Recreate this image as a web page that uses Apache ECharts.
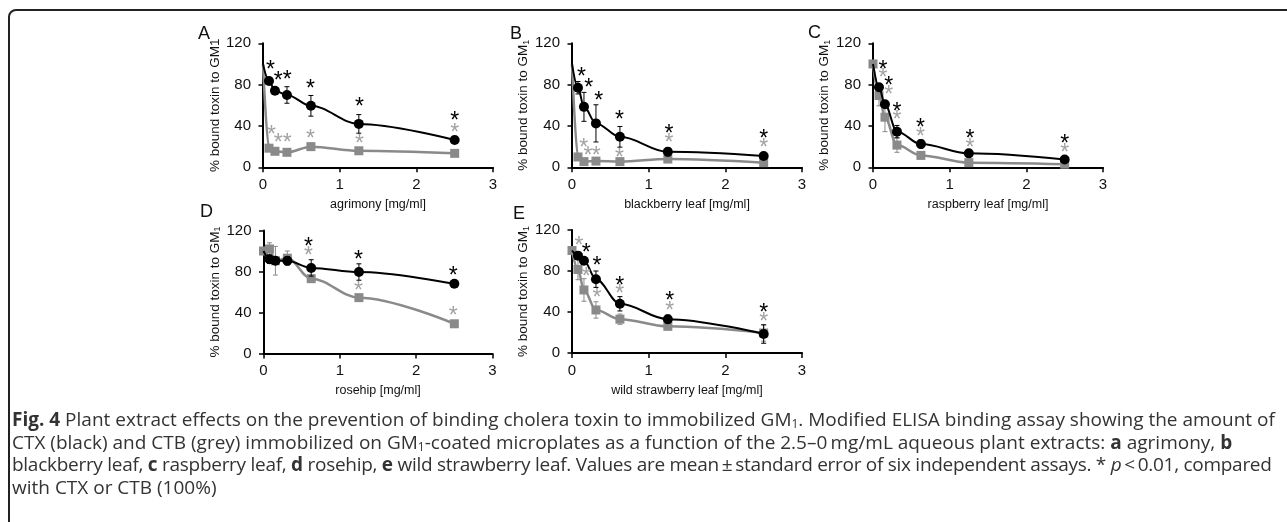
<!DOCTYPE html>
<html>
<head>
<meta charset="utf-8">
<script src="https://cdn.jsdelivr.net/npm/echarts@6.0.0/dist/echarts.min.js"></script>
<style>
html, body { margin:0; padding:0; background:#fff; }
#wrap { position:relative; width:1287px; height:522px; overflow:hidden; }
#chart { position:absolute; left:0; top:0; width:1287px; height:522px; }
#box { position:absolute; left:8px; top:9px; width:1400px; height:520px; border:2px solid #222; border-radius:8px; box-sizing:border-box; }
#cap { position:absolute; left:12px; top:408px; font-family:"Open Sans","Noto Sans",sans-serif; font-size:19px; line-height:22.7px; color:#333; white-space:nowrap; }
#cap sub { font-size:12px; vertical-align:-2px; line-height:0; }
#cap .tight { letter-spacing:-0.28px; }
</style>
</head>
<body>
<div id="wrap">
  <div id="box"></div>
  <div id="chart"></div>
  <div id="cap">
    <div><b>Fig. 4</b> Plant extract effects on the prevention of binding cholera toxin to immobilized GM<sub>1</sub>. Modified ELISA binding assay showing the amount of</div>
    <div>CTX (black) and CTB (grey) immobilized on GM<sub>1</sub>-coated microplates as a function of the 2.5–0&#8201;mg/mL aqueous plant extracts: <b>a</b> agrimony, <b>b</b></div>
    <div class="tight">blackberry leaf, <b>c</b> raspberry leaf, <b>d</b> rosehip, <b>e</b> wild strawberry leaf. Values are mean&#8201;±&#8201;standard error of six independent assays. * <i>p</i>&#8201;&lt;&#8201;0.01, compared</div>
    <div>with CTX or CTB (100%)</div>
  </div>
</div>
<script>
// concentrations [mg/ml]
var conc = [0, 0.078, 0.156, 0.3125, 0.625, 1.25, 2.5];
var xTicks = [0, 1, 2, 3];
var yTicks = [0, 40, 80, 120];

var panelLetters = ['A', 'B', 'C', 'D', 'E'];
var xNames = ['agrimony [mg/ml]', 'blackberry leaf [mg/ml]', 'raspberry leaf [mg/ml]', 'rosehip [mg/ml]', 'wild strawberry leaf [mg/ml]'];

// CTX (black)
var ctxA = [100, 83.5, 74, 70, 59.5, 42, 26.5];
var ctxErrA = [0, 3, 2, 8, 10, 9, 2];
var ctxB = [100, 77, 58.5, 42.5, 29.5, 15, 11];
var ctxErrB = [0, 6, 14, 18, 10, 4, 1];
var ctxC = [100, 77.5, 61, 34.5, 22.5, 13.5, 7.5];
var ctxErrC = [0, 3, 3, 6, 4, 2, 1];
var ctxD = [100, 92, 90.5, 90.5, 83.5, 79.5, 68];
var ctxErrD = [0, 4, 3, 4, 8, 8, 2];
var ctxE = [100, 95, 90, 72, 48, 33, 18.5];
var ctxErrE = [0, 2, 3, 8, 7, 4, 9];

// CTB (grey)
var ctbA = [100, 18.5, 15.5, 14.5, 20, 16, 13.5];
var ctbErrA = [0, 2, 2, 2, 3, 2, 1];
var ctbB = [100, 10, 5.5, 6, 5.5, 8, 4.5];
var ctbErrB = [0, 1, 1, 1, 1, 1, 1];
var ctbC = [100, 69.5, 48.5, 21.5, 11.5, 4.5, 3];
var ctbErrC = [0, 10, 14, 7, 2, 1, 1];
var ctbD = [100, 102, 90.5, 93, 73, 54.5, 29];
var ctbErrD = [0, 6, 14, 7, 3, 3, 2];
var ctbE = [100, 81.5, 61.5, 42, 33, 26, 19.5];
var ctbErrE = [0, 10, 11, 8, 5, 2, 8];

// significance asterisks (x, y in data units)
var starsCtxA = [[0.096, 98], [0.197, 87.7], [0.315, 88.4], [0.62, 79.7], [1.26, 62.6], [2.5, 49]];
var starsCtbA = [[0.109, 35.5], [0.197, 28], [0.315, 28], [0.62, 31.3], [1.26, 26.5], [2.5, 37.7]];
var starsCtxB = [[0.122, 91.6], [0.217, 81.3], [0.348, 68.4], [0.62, 49.7], [1.265, 36.8], [2.5, 32]];
var starsCtbB = [[0.152, 23.2], [0.209, 15.2], [0.317, 15.2], [0.62, 13.5], [1.265, 28], [2.5, 22.6]];
var starsCtxC = [[0.131, 98.4], [0.205, 82.9], [0.314, 58], [0.62, 42], [1.266, 31.3], [2.5, 26.5]];
var starsCtbC = [[0.131, 90.3], [0.205, 73.9], [0.314, 50], [0.62, 33.9], [1.266, 23.2], [2.5, 17.7]];
var starsCtxD = [[0.59, 108], [1.245, 95.6], [2.485, 80.3]];
var starsCtbD = [[0.59, 99.8], [1.245, 65.7], [2.485, 41.3]];
var starsCtxE = [[0.187, 102.2], [0.326, 89.2], [0.622, 69.7], [1.274, 54.5], [2.5, 42.8]];
var starsCtbE = [[0.091, 108.7], [0.187, 78.5], [0.326, 57.7], [0.622, 61.6], [1.274, 44.8], [2.5, 34.7]];

var ctxAll = [ctxA, ctxB, ctxC, ctxD, ctxE];
var ctxErrAll = [ctxErrA, ctxErrB, ctxErrC, ctxErrD, ctxErrE];
var ctbAll = [ctbA, ctbB, ctbC, ctbD, ctbE];
var ctbErrAll = [ctbErrA, ctbErrB, ctbErrC, ctbErrD, ctbErrE];
var starsCtxAll = [starsCtxA, starsCtxB, starsCtxC, starsCtxD, starsCtxE];
var starsCtbAll = [starsCtbA, starsCtbB, starsCtbC, starsCtbD, starsCtbE];
// marker at concentration 0 is only shown for the grey series in C, D, E
var showZeroGrey = [false, false, true, true, true];

var BLACK = '#000';
var GREY = '#8a8a8a';
var GREY_STAR = '#a3a3a3';
var FONT = 'Liberation Sans, Arial, sans-serif';

// grid boxes
var grids = [
	{left: 263, top: 43.3, width: 230, height: 124},
	{left: 572, top: 43.3, width: 230, height: 124},
	{left: 873, top: 43.3, width: 230, height: 124},
	{left: 263.5, top: 230.5, width: 229, height: 123},
	{left: 572, top: 230, width: 230, height: 123}
];
var letterPos = [[198, 25], [510, 25], [808, 24], [200, 203], [513, 205]];

function errRender(color) {
	return function(params, api) {
		var x = api.value(0), y = api.value(1), e = api.value(2);
		if (!e) return null;
		var t = api.coord([x, y + e]);
		var b = api.coord([x, y - e]);
		var w = 2.5;
		var st = {stroke: color, lineWidth: 1};
		return {type: 'group', children: [
			{type: 'line', shape: {x1: t[0], y1: t[1], x2: b[0], y2: b[1]}, style: st},
			{type: 'line', shape: {x1: t[0] - w, y1: t[1], x2: t[0] + w, y2: t[1]}, style: st},
			{type: 'line', shape: {x1: b[0] - w, y1: b[1], x2: b[0] + w, y2: b[1]}, style: st}
		]};
	};
}

function starRender(color) {
	return function(params, api) {
		var p = api.coord([api.value(0), api.value(1)]);
		return {type: 'text', x: p[0], y: p[1] + 5, style: {text: '*', fill: color, font: '23px ' + FONT, align: 'center', verticalAlign: 'middle'}};
	};
}

var option = {
	animation: false,
	backgroundColor: 'transparent',
	grid: [],
	xAxis: [],
	yAxis: [],
	series: [],
	graphic: []
};

for (var i = 0; i < 5; i++) {
	option.grid.push(grids[i]);
	option.xAxis.push({
		gridIndex: i, type: 'value', min: xTicks[0], max: xTicks[xTicks.length - 1], interval: 1,
		axisLine: {show: true, onZero: false, lineStyle: {color: '#000', width: 2}},
		axisTick: {show: true, inside: false, length: 5, lineStyle: {color: '#000', width: 1.5}},
		splitLine: {show: false},
		axisLabel: {fontSize: 15, color: '#111', fontFamily: FONT, margin: 10},
		name: xNames[i], nameLocation: 'middle', nameGap: 31,
		nameTextStyle: {fontSize: 12.5, color: '#111', fontFamily: FONT}
	});
	option.yAxis.push({
		gridIndex: i, type: 'value', min: yTicks[0], max: yTicks[yTicks.length - 1], interval: 40,
		axisLine: {show: true, onZero: false, lineStyle: {color: '#000', width: 2}},
		axisTick: {show: true, inside: false, length: 4.5, lineStyle: {color: '#000', width: 1.5}},
		splitLine: {show: false},
		axisLabel: {fontSize: 15, color: '#111', fontFamily: FONT, margin: 12},
		name: i == 0 ? '% bound toxin to GM1' : '% bound toxin to GM{s|1}',
		nameLocation: 'middle', nameGap: 41, nameRotate: 90,
		nameTextStyle: {fontSize: 13.5, color: '#111', fontFamily: FONT,
			rich: {s: {fontSize: 9, color: '#111', fontFamily: FONT, verticalAlign: 'bottom', padding: [6, 0, 0, 0]}}}
	});

	var ctxData = [], ctbData = [], ctxErr = [], ctbErr = [];
	for (var j = 0; j < conc.length; j++) {
		if (j == 0) {
			ctxData.push({value: [conc[j], ctxAll[i][j]], symbol: 'none'});
			ctbData.push(showZeroGrey[i] ? [conc[j], ctbAll[i][j]] : {value: [conc[j], ctbAll[i][j]], symbol: 'none'});
		} else {
			ctxData.push([conc[j], ctxAll[i][j]]);
			ctbData.push([conc[j], ctbAll[i][j]]);
		}
		ctxErr.push([conc[j], ctxAll[i][j], ctxErrAll[i][j]]);
		ctbErr.push([conc[j], ctbAll[i][j], ctbErrAll[i][j]]);
	}

	option.series.push({
		type: 'custom', xAxisIndex: i, yAxisIndex: i, renderItem: errRender(GREY),
		data: ctbErr, encode: {x: 0, y: 1}, z: 3, silent: true
	});
	option.series.push({
		type: 'line', xAxisIndex: i, yAxisIndex: i, data: ctbData,
		smooth: 0.35, smoothMonotone: 'x', symbol: 'rect', symbolSize: 9,
		itemStyle: {color: GREY}, lineStyle: {color: GREY, width: 2.5}, z: 4, silent: true
	});
	option.series.push({
		type: 'custom', xAxisIndex: i, yAxisIndex: i, renderItem: errRender(BLACK),
		data: ctxErr, encode: {x: 0, y: 1}, z: 5, silent: true
	});
	option.series.push({
		type: 'line', xAxisIndex: i, yAxisIndex: i, data: ctxData,
		smooth: 0.35, smoothMonotone: 'x', symbol: 'circle', symbolSize: 10,
		itemStyle: {color: BLACK}, lineStyle: {color: BLACK, width: 2}, z: 6, silent: true
	});
	option.series.push({
		type: 'custom', xAxisIndex: i, yAxisIndex: i, renderItem: starRender(BLACK),
		data: starsCtxAll[i], encode: {x: 0, y: 1}, z: 7, clip: false, silent: true
	});
	option.series.push({
		type: 'custom', xAxisIndex: i, yAxisIndex: i, renderItem: starRender(GREY_STAR),
		data: starsCtbAll[i], encode: {x: 0, y: 1}, z: 7, clip: false, silent: true
	});

	option.graphic.push({
		type: 'text', left: letterPos[i][0], top: letterPos[i][1],
		style: {text: panelLetters[i], font: '18px ' + FONT, fill: '#111'}
	});
}

var myChart = echarts.init(document.getElementById('chart'));
myChart.setOption(option);
</script>
</body>
</html>
